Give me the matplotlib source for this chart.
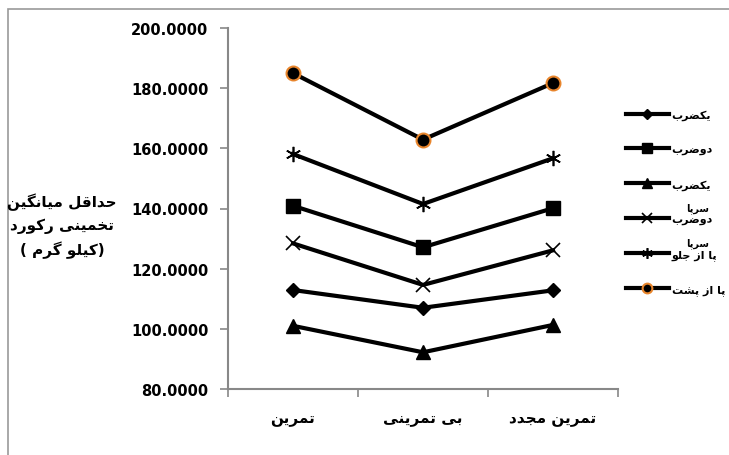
import matplotlib
matplotlib.use("Agg")
import matplotlib.pyplot as plt
from matplotlib.patches import Rectangle

# presentation forms: isolated, final, initial, medial (None = no left join)
FORMS = {
    "ا": (0xFE8D, 0xFE8E, None, None),
    "ب": (0xFE8F, 0xFE90, 0xFE91, 0xFE92),
    "ت": (0xFE95, 0xFE96, 0xFE97, 0xFE98),
    "ج": (0xFE9D, 0xFE9E, 0xFE9F, 0xFEA0),
    "ح": (0xFEA1, 0xFEA2, 0xFEA3, 0xFEA4),
    "خ": (0xFEA5, 0xFEA6, 0xFEA7, 0xFEA8),
    "د": (0xFEA9, 0xFEAA, None, None),
    "ر": (0xFEAD, 0xFEAE, None, None),
    "ز": (0xFEAF, 0xFEB0, None, None),
    "س": (0xFEB1, 0xFEB2, 0xFEB3, 0xFEB4),
    "ش": (0xFEB5, 0xFEB6, 0xFEB7, 0xFEB8),
    "ض": (0xFEBD, 0xFEBE, 0xFEBF, 0xFEC0),
    "ق": (0xFED5, 0xFED6, 0xFED7, 0xFED8),
    "ل": (0xFEDD, 0xFEDE, 0xFEDF, 0xFEE0),
    "م": (0xFEE1, 0xFEE2, 0xFEE3, 0xFEE4),
    "ن": (0xFEE5, 0xFEE6, 0xFEE7, 0xFEE8),
    "و": (0xFEED, 0xFEEE, None, None),
    "پ": (0xFB56, 0xFB57, 0xFB58, 0xFB59),
    "ک": (0xFB8E, 0xFB8F, 0xFB90, 0xFB91),
    "گ": (0xFB92, 0xFB93, 0xFB94, 0xFB95),
    "ی": (0xFBFC, 0xFBFD, 0xFBFE, 0xFBFF),
}
MIRROR = {"(": ")", ")": "("}


def fa(text):
    """shape persian text and return it in visual (left to right) order"""
    out = []
    for i, ch in enumerate(text):
        if ch not in FORMS:
            out.append(ch)
            continue
        prev = text[i - 1] if i > 0 else ""
        nxt = text[i + 1] if i + 1 < len(text) else ""
        join_prev = prev in FORMS and FORMS[prev][2] is not None
        join_next = FORMS[ch][2] is not None and nxt in FORMS
        iso, fin, ini, med = FORMS[ch]
        if join_prev and join_next:
            code = med
        elif join_prev:
            code = fin
        elif join_next:
            code = ini
        else:
            code = iso
        out.append(chr(code))
    return "".join(MIRROR.get(c, c) for c in reversed(out))


plt.rcParams["font.family"] = ["DejaVu Sans"]
plt.rcParams["font.weight"] = "bold"

phases = ["تمرین", "بی تمرینی", "تمرین مجدد"]
series_names = ["یکضرب", "دوضرب", "یکضرب", "دوضرب", "پا از جلو", "پا از پشت"]
one_rep = [112.9, 107.0, 112.8]
two_rep = [140.9, 127.1, 140.1]
one_rep_standing = [101.0, 92.2, 101.3]
two_rep_standing = [128.4, 114.6, 126.1]
front_squat = [158.1, 141.5, 156.7]
back_squat = [185.0, 162.9, 181.7]
yticks = [80, 100, 120, 140, 160, 180, 200]

fig = plt.figure(figsize=(7.29, 4.56), dpi=100)
ax = fig.add_axes([228 / 729, 1 - 390 / 456, 390 / 729, 361 / 456])

xs = range(len(phases))
styles = [
    dict(marker="D", ms=7),
    dict(marker="s", ms=10),
    dict(marker="^", ms=10),
    dict(marker="x", ms=10, mew=1.2),
    dict(marker=(6, 2, 0), ms=11, mew=1.2),
    dict(marker="o", ms=10, mfc="black", mec="#e8852c", mew=1.5),
]
values = [one_rep, two_rep, one_rep_standing, two_rep_standing, front_squat, back_squat]
handles = []
for vals, st in zip(values, styles):
    line, = ax.plot(xs, vals, color="black", lw=3, **st)
    handles.append(line)

ax.set_xlim(-0.5, 2.5)
ax.set_ylim(80, 200)
ax.set_yticks(yticks)
ax.set_yticklabels(["%.4f" % v for v in yticks], fontsize=10.5, fontweight="bold")
ax.set_xticks([-0.5, 0.5, 1.5, 2.5])
ax.set_xticklabels([])
ax.set_xticks(list(xs), minor=True)
ax.set_xticklabels([fa(p) for p in phases], minor=True, fontsize=11, fontweight="bold")
ax.tick_params(axis="x", which="minor", length=0, pad=16)
ax.tick_params(axis="both", which="major", direction="out", length=6, color="#888888", width=1.2)
ax.tick_params(axis="y", pad=8)

for side in ["top", "right"]:
    ax.spines[side].set_visible(False)
for side in ["left", "bottom"]:
    ax.spines[side].set_color("#888888")
    ax.spines[side].set_linewidth(1.5)

ylabel = "\n".join([fa("حداقل میانگین"), fa("تخمینی رکورد"), fa("(کیلو گرم )")])
fig.text(62 / 729, 1 - 226 / 456, ylabel, ha="center", va="center",
         fontsize=11, fontweight="bold", linespacing=1.55)

leg = fig.legend(handles, [fa(n) for n in series_names], loc="center left",
                 bbox_to_anchor=(620 / 729, 1 - 203 / 456), frameon=False,
                 fontsize=8, handlelength=3.9, handletextpad=0.25,
                 labelspacing=2.2, borderpad=0, markerscale=0.7)
for t in leg.get_texts():
    t.set_fontweight("bold")

# wrapped second word of two legend entries spills over the first line
for ypx in (209, 244):
    fig.text(698 / 729, 1 - ypx / 456, fa("سرپا"), ha="center", va="center",
             fontsize=7, fontweight="bold")

fig.patches.append(Rectangle((8 / 729, -0.1), 1.2, 1 - 10 / 456 + 0.1,
                             transform=fig.transFigure, fill=False,
                             edgecolor="#999999", lw=1.2))

fig.savefig("out.png", dpi=100)
